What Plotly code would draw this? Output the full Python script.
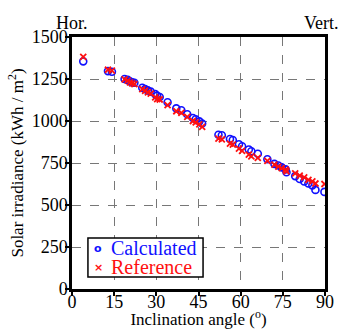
import plotly.graph_objects as go

angles = [4, 12.8, 14.2, 18.7, 19.8, 20.6, 21.4, 22.2, 25, 26, 27, 28, 29.6, 30.3, 31.2,
          34, 37.1, 38.9, 41, 43, 44, 45.3, 46.3, 52.1, 53.3, 56.2, 57.2, 59.4, 60.5,
          62.9, 63.8, 66.1, 69.5, 72, 73.4, 74.6, 76, 76.3, 79.4, 81, 82.6, 84.1, 85.5,
          86.6, 89.8]
calculated = [1355, 1297, 1293, 1250, 1245, 1236, 1230, 1228, 1198, 1190, 1182, 1175, 1160,
              1150, 1143, 1112, 1075, 1064, 1040, 1018, 1010, 998, 985, 918, 915, 893, 887,
              862, 850, 830, 820, 805, 772, 745, 735, 724, 712, 695, 672, 655, 640, 628, 617,
              590, 578]
reference = [1382, 1305, 1300, 1248, 1240, 1230, 1224, 1220, 1190, 1180, 1170, 1163, 1140,
             1130, 1128, 1095, 1058, 1048, 1025, 1000, 992, 980, 965, 895, 890, 865, 860,
             835, 822, 800, 790, 780, 762, 740, 728, 720, 710, 700, 688, 675, 665, 650, 640,
             628, 625]
x_ticks = [0, 15, 30, 45, 60, 75, 90]
y_ticks = [0, 250, 500, 750, 1000, 1250, 1500]
series_names = ["Calculated", "Reference"]

FONT = "Liberation Serif"
BLUE = "#1010ff"
RED = "#ff1010"

fig = go.Figure()
fig.add_trace(go.Scatter(
    x=angles, y=calculated, mode="markers", name=series_names[0], showlegend=False,
    marker=dict(symbol="circle-open", color=BLUE, size=7, line=dict(width=1.6, color=BLUE)),
))
fig.add_trace(go.Scatter(
    x=angles, y=reference, mode="markers", name=series_names[1], showlegend=False,
    marker=dict(symbol="x-thin-open", color=RED, size=6, line=dict(width=1.8, color=RED)),
))

axis_common = dict(
    showline=True, linecolor="black", linewidth=2.5, mirror=True,
    showgrid=True, gridcolor="#777777", griddash="dash", gridwidth=1,
    ticks="outside", ticklen=4, tickcolor="black", tickwidth=1.5,
    zeroline=False, automargin=False,
    tickfont=dict(family=FONT, size=18, color="black"),
)

fig.update_xaxes(
    range=[0, 90], tickvals=x_ticks, ticklabelstandoff=-9,
    title=dict(text="Inclination angle (<sup>o</sup>)", font=dict(family=FONT, size=17, color="black"), standoff=0),
    **axis_common,
)
fig.update_yaxes(
    range=[0, 1500], tickvals=y_ticks, ticklabelstandoff=-6,
    title=dict(text="Solar irradiance (kWh / m<sup>2</sup>)", font=dict(family=FONT, size=17, color="black"), standoff=4),
    **axis_common,
)

fig.add_annotation(text="Hor.", xref="paper", yref="paper", x=0.0, y=1.0, xanchor="center", yanchor="bottom",
                   showarrow=False, font=dict(family=FONT, size=18, color="black"), yshift=2)
fig.add_annotation(text="Vert.", xref="paper", yref="paper", x=1.0, y=1.0, xanchor="center", yanchor="bottom",
                   showarrow=False, font=dict(family=FONT, size=18, color="black"), yshift=2, xshift=-4)

# custom compact legend
fig.add_shape(type="rect", xref="paper", yref="paper", x0=0.063, x1=0.518, y0=0.048, y1=0.202,
              line=dict(color="black", width=1.5), fillcolor="white", layer="above")
legend_rows = [(series_names[0], BLUE, "o", 0.162), (series_names[1], RED, "×", 0.087)]
for name, col, sym, yy in legend_rows:
    fig.add_annotation(text=sym, xref="paper", yref="paper", x=0.103, y=yy, xanchor="center", yanchor="middle",
                       showarrow=False, font=dict(family="DejaVu Sans", size=11, color=col, weight="bold"))
    fig.add_annotation(text=name, xref="paper", yref="paper", x=0.148, y=yy, xanchor="left", yanchor="middle",
                       showarrow=False, font=dict(family=FONT, size=20, color=col))

fig.update_layout(
    width=344, height=329,
    margin=dict(l=72, r=19, t=37, b=40),
    paper_bgcolor="white", plot_bgcolor="white",
    font=dict(family=FONT, color="black"),
    showlegend=False,
)

fig.write_html("out.html", config={"displayModeBar": False},
               post_script="document.body.style.margin='0';document.body.style.padding='0';")
